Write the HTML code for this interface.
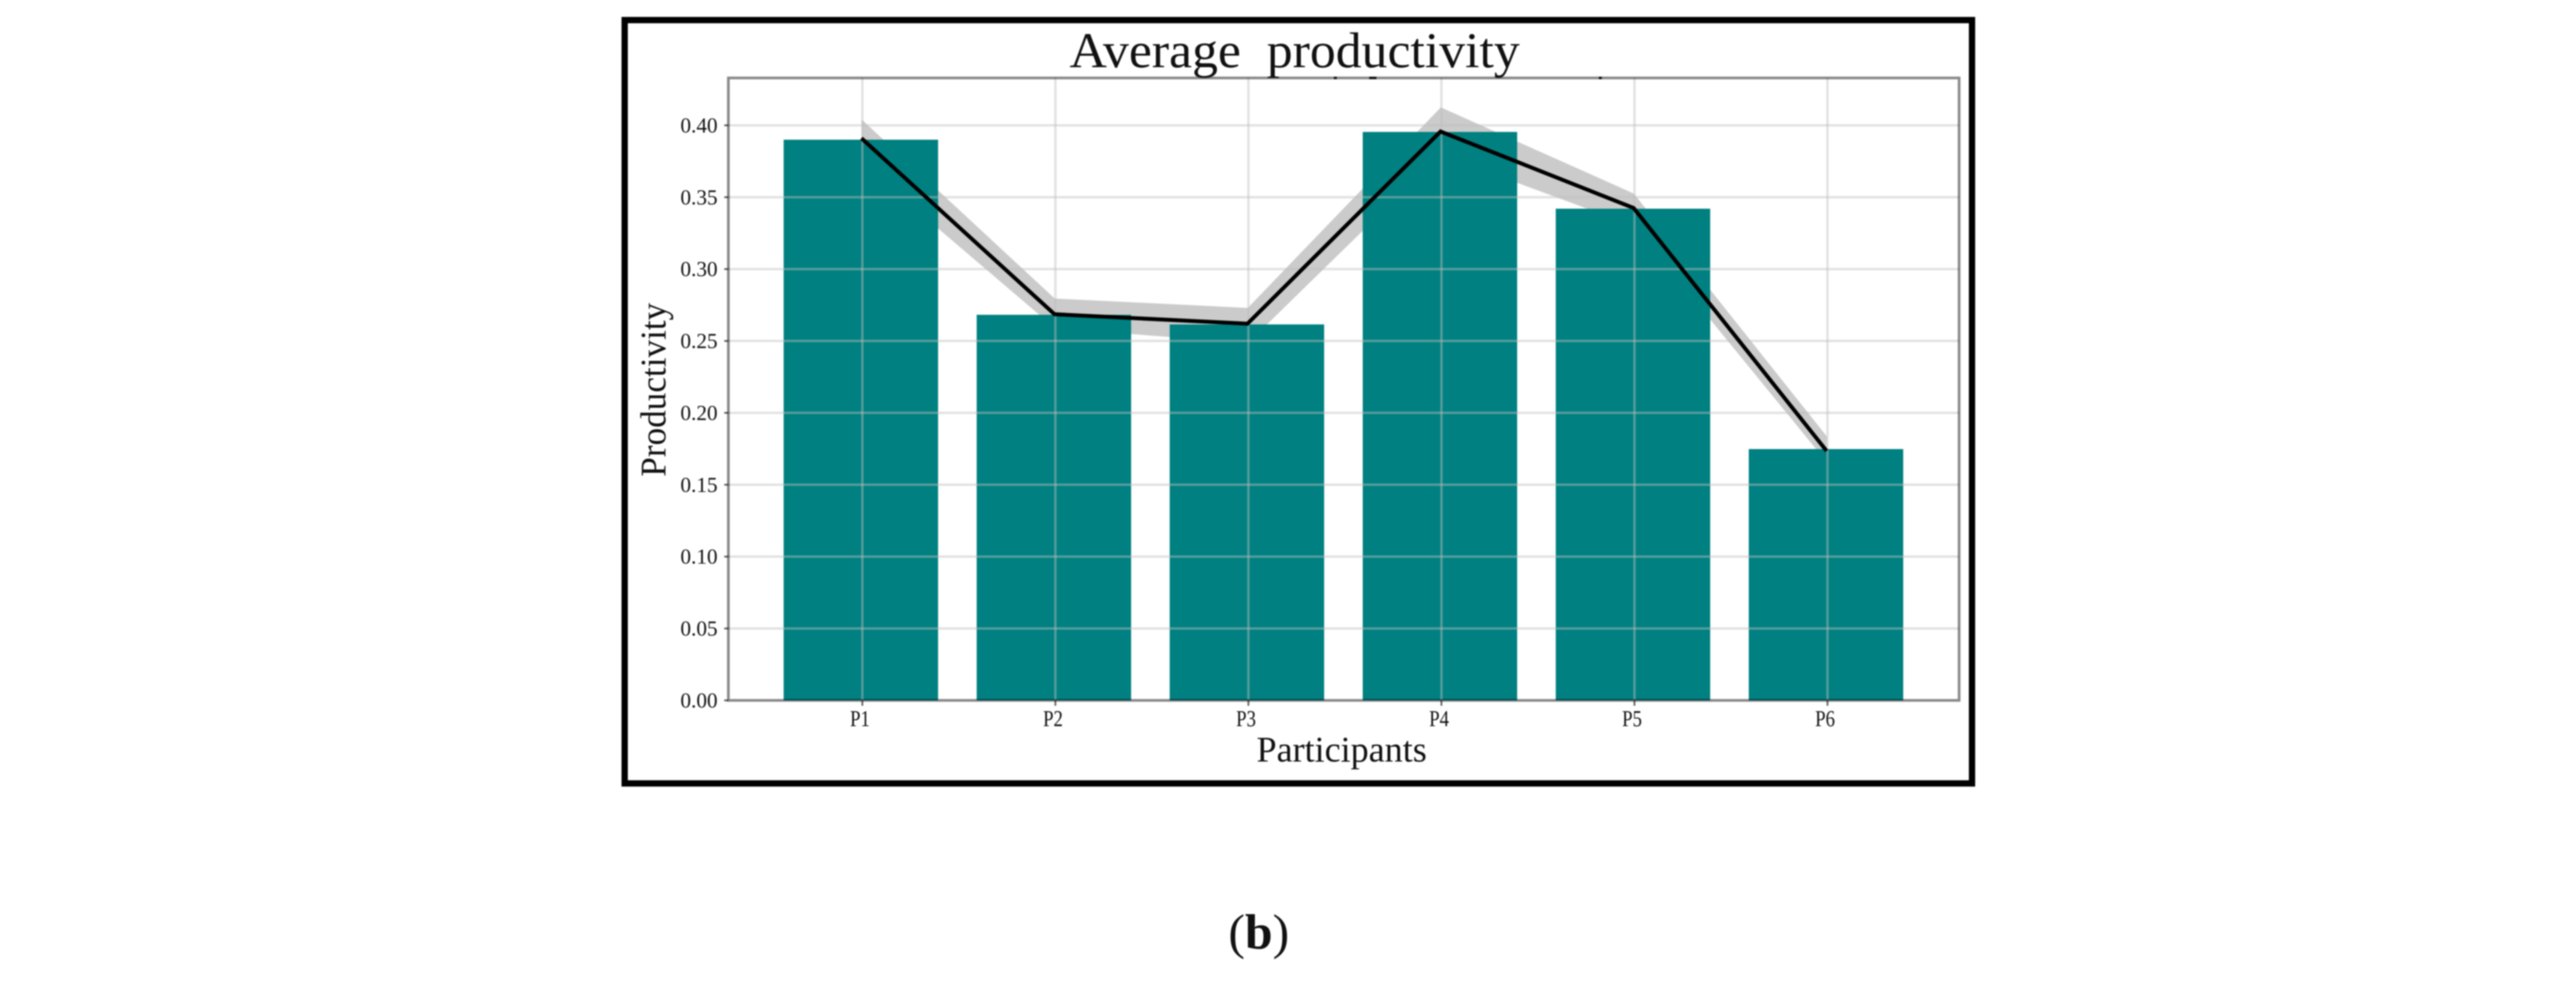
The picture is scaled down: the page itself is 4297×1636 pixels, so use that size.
<!DOCTYPE html>
<html lang="en">
<head>
<meta charset="utf-8">
<title>Average productivity</title>
<style>
  html, body { margin: 0; padding: 0; background: #fff; width: 4297px; height: 1636px; overflow: hidden; }
  svg { display: block; filter: blur(1px); }
  text { font-family: "Liberation Serif", "Times New Roman", serif; fill: #111; }
</style>
</head>
<body>
<svg id="figure" xmlns="http://www.w3.org/2000/svg" width="4297" height="1636" viewBox="0 0 4297 1636">
  <rect x="0" y="0" width="4297" height="1636" fill="#fff"/>
  <rect x="1042" y="33.5" width="2247.5" height="1273" fill="#fff" stroke="#000" stroke-width="10.5"/>
  <g id="plot"></g>
  <text x="1784" y="112" font-size="84" textLength="751" lengthAdjust="spacingAndGlyphs" xml:space="preserve">Average  productivity</text>
  <rect x="2225" y="128" width="5" height="4" fill="#111"/>
  <rect x="2284" y="128" width="12" height="4" fill="#111"/>
  <rect x="2667" y="128" width="5" height="4" fill="#111"/>
  <text x="2096" y="1270" font-size="60" textLength="284" lengthAdjust="spacingAndGlyphs">Participants</text>
  <text transform="translate(1110 795) rotate(-90)" x="0" y="0" font-size="60" textLength="290" lengthAdjust="spacingAndGlyphs">Productivity</text>
  <text x="2049" y="1582" font-size="83" fill="#000">(<tspan font-weight="bold">b</tspan>)</text>
</svg>
<script>
const categories = ["P1", "P2", "P3", "P4", "P5", "P6"];
const barValues = [0.390, 0.2682, 0.2615, 0.3954, 0.342, 0.1748];
const lineValues = [0.391, 0.2686, 0.262, 0.3957, 0.3425, 0.1735];
const bandUpper = [0.404, 0.2795, 0.273, 0.4125, 0.3525, 0.1835];
const bandLower = [0.3736, 0.259, 0.2485, 0.3797, 0.330, 0.1656];
const yTickValues = [0, 0.05, 0.10, 0.15, 0.20, 0.25, 0.30, 0.35, 0.40];
const yTickLabels = ["0.00", "0.05", "0.10", "0.15", "0.20", "0.25", "0.30", "0.35", "0.40"];

const AXIS = { left: 1215, right: 3268, top: 130, bottom: 1168 };
const X_MIN = -0.6863, X_MAX = 5.6897, Y_MIN = 0, Y_MAX = 0.43295;
const BAR_WIDTH = 0.8;
const GRID_SHIFT = 2.5, LINE_SHIFT = 1, BAND_SHIFT = 1.5, LABEL_SHIFT = -1.5;

function xScale(i) {
  return AXIS.left + (i - X_MIN) / (X_MAX - X_MIN) * (AXIS.right - AXIS.left);
}
function yScale(v) {
  return AXIS.bottom - (v - Y_MIN) / (Y_MAX - Y_MIN) * (AXIS.bottom - AXIS.top);
}

const SVG_NS = "http://www.w3.org/2000/svg";
const plot = document.getElementById("plot");
function make(tag, attrs, text) {
  const node = document.createElementNS(SVG_NS, tag);
  for (const key in attrs) node.setAttribute(key, attrs[key]);
  if (text !== undefined) node.textContent = text;
  plot.appendChild(node);
  return node;
}

// Shaded confidence band
const upperPts = bandUpper.map((v, i) => (xScale(i) + BAND_SHIFT) + "," + yScale(v));
const lowerPts = bandLower.map((v, i) => (xScale(i) + BAND_SHIFT) + "," + yScale(v)).reverse();
const band = make("polygon", { points: upperPts.concat(lowerPts).join(" "), fill: "#cbcbcb" });



// Bars
barValues.forEach((v, i) => {
  const x0 = xScale(i - BAR_WIDTH / 2);
  const x1 = xScale(i + BAR_WIDTH / 2);
  const bar = make("rect", { x: x0, y: yScale(v), width: x1 - x0, height: yScale(0) - yScale(v), fill: "#008080" });
  
  
});

// Horizontal grid, ticks and labels
yTickValues.forEach((v, i) => {
  const y = yScale(v);
  if (v > 0) {
    const grid = make("line", { x1: AXIS.left, x2: AXIS.right, y1: y, y2: y, stroke: "rgb(190,190,190)", "stroke-opacity": 0.45, "stroke-width": 4 });
    
    
  }
  const tick = make("line", { x1: AXIS.left - 7, x2: AXIS.left, y1: y, y2: y, stroke: "#666", "stroke-width": 3 });
  
  
  const label = make("text", { x: 1197, y: y + 12, "font-size": 36, "text-anchor": "end", textLength: 62, lengthAdjust: "spacingAndGlyphs" }, yTickLabels[i]);
  
  
});

// Vertical grid, ticks and labels
categories.forEach((c, i) => {
  const x = xScale(i);
  const grid = make("line", { x1: x + GRID_SHIFT, x2: x + GRID_SHIFT, y1: AXIS.top, y2: AXIS.bottom, stroke: "rgb(190,190,190)", "stroke-opacity": 0.45, "stroke-width": 4 });
  
  
  const tick = make("line", { x1: x + GRID_SHIFT, x2: x + GRID_SHIFT, y1: AXIS.bottom, y2: AXIS.bottom + 9, stroke: "#666", "stroke-width": 3 });
  
  
  const label = make("text", { x: x + LABEL_SHIFT, y: 1211, "font-size": 38, "text-anchor": "middle", textLength: 33, lengthAdjust: "spacingAndGlyphs" }, c);
  
  
});

// Mean line
const meanLine = make("polyline", {
  points: lineValues.map((v, i) => (xScale(i) + LINE_SHIFT) + "," + yScale(v)).join(" "),
  fill: "none", stroke: "#000", "stroke-width": 6.5, "stroke-linejoin": "miter"
});



// Axes spines
const spines = make("path", {
  d: "M" + AXIS.left + " " + AXIS.bottom + "V" + AXIS.top + "H" + AXIS.right + "V" + AXIS.bottom + "Z",
  fill: "none", stroke: "#8a8a8a", "stroke-width": 4.5, style: "mix-blend-mode:multiply"
});


</script>
</body>
</html>
